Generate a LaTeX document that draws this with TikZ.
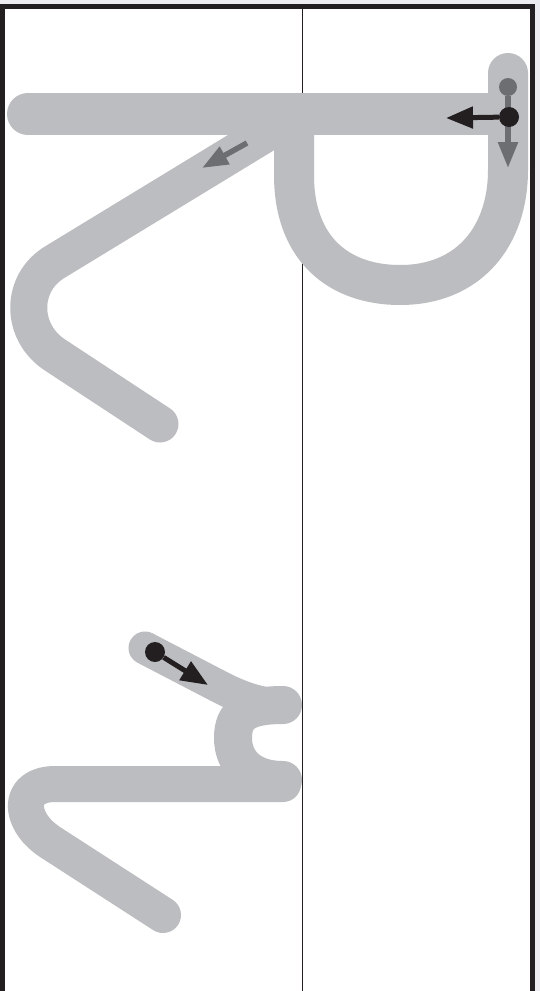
\documentclass[tikz,border=0pt]{standalone}
\usepackage{tikz}
\usetikzlibrary{arrows.meta}
\definecolor{inkblack}{HTML}{231F20}
\definecolor{inkgray}{HTML}{6D6E71}
\definecolor{pathgray}{HTML}{BCBDC0}
\definecolor{pagebg}{HTML}{EDEDF1}
\tikzset{
  brush/.style={draw=pathgray, line cap=round, line join=round},
  frameline/.style={draw=inkblack, line width=5pt},
  midline/.style={draw=inkblack, line width=1.4pt},
  blackdot/.style={circle, fill=inkblack, inner sep=0pt, minimum size=20pt},
  graydot/.style={circle, fill=inkgray, inner sep=0pt, minimum size=18pt},
  blackarrow/.style={draw=inkblack, line width=5pt, -{Triangle[length=27pt, width=21pt]}},
  grayarrow/.style={draw=inkgray, line width=5.5pt, -{Triangle[length=26pt, width=19pt]}},
}

\begin{document}
\begin{tikzpicture}[x=1pt, y=-1pt]
  % --- page and frame ---
  \useasboundingbox (0,0) rectangle (540,991);
  \fill[pagebg] (0,0) rectangle (540,991);
  \fill[white] (2,6.5) rectangle (532.5,991);
  \draw[midline] (302.5,6.5) -- (302.5,991);
  \draw[frameline] (2,991) -- (2,6.5) -- (532.5,6.5) -- (532.5,991);

  % --- upper letter ---
  \draw[brush, line width=42pt] (28,114) -- (505,114);
  \draw[brush, line width=40pt] (294,125) -- (294,175)
    .. controls (294,250) and (340,285) .. (400,285)
    .. controls (470,285) and (508,235) .. (508,170) -- (508,73);
  \draw[brush, line width=37pt] (275,128) -- (55,262)
    .. controls (20,283) and (20,332) .. (55,355) -- (160,424);

  % --- lower letter ---
  \draw[brush, line width=33pt] (145,648) -- (220,687)
    .. controls (245,700) and (265,705) .. (283,705);
  \draw[brush, line width=38pt] (283,705)
    .. controls (245,705) and (233,715) .. (233,738)
    .. controls (233,762) and (250,780) .. (283,780);
  \draw[brush, line width=36pt] (283,784) -- (55,784)
    .. controls (17,784) and (17,820) .. (50,842) -- (163,915);

  % --- stroke directions ---
  \coordinate (legtail) at (247,143);
  \coordinate (legtip)  at (202,168);
  \draw[grayarrow] (legtail) -- (legtip);

  \node[graydot] (penup) at (508,87) {};
  \coordinate (downtip) at (508,168);
  \draw[grayarrow] (penup) -- (downtip);
  \node[blackdot] (pendown) at (509,117) {};
  \coordinate (lefttip) at (446,118);
  \draw[blackarrow] (pendown) -- (lefttip);

  \node[blackdot] (zstart) at (155,652) {};
  \coordinate (ztip) at (208,685);
  \draw[blackarrow] (zstart) -- (ztip);
\end{tikzpicture}
\end{document}
